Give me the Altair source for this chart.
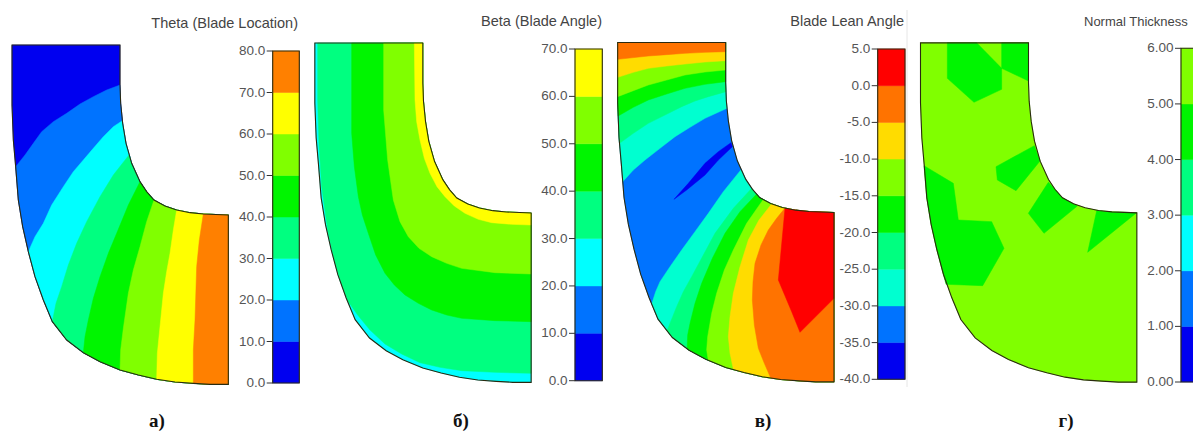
import altair as alt

# Palette
DB, BL, CY, SP, GR, LI, YE, OR, RE = "#0000f0", "#0073ff", "#00ffff", "#00ff80", "#00f500", "#80ff00", "#ffff00", "#ff8000", "#ff0000"
GD, OR2, TE = "#ffdc00", "#ff7300", "#00ffd0"

OFF_A, OFF_B, OFF_C, OFF_D = 0, 305, 605, 900

blade = [(36,135),(360,135),(360,255),(362,310),(368,370),(378,430),(395,490),(420,545),(440,575),(462,600),(495,618),(530,630),(570,638),(610,642),(685,645),(685,1153),
         (630,1153),(580,1150),(525,1146),(470,1138),(415,1125),(360,1110),(300,1085),(250,1058),(200,1020),(157,965),(130,900),(105,830),(85,755),(68,680),(55,600),(47,500),(40,420),(36,315)]
shift_b, shift_c, shift_d = (-6.5, -6), (2, -7.5), (25.5, -6.5)

outline_a = blade
outline_b = [(x + shift_b[0], y + shift_b[1]) for x, y in blade]
outline_c = [(x + shift_c[0], y + shift_c[1]) for x, y in blade]
outline_d = [(x + shift_d[0], y + shift_d[1]) for x, y in blade]

bounds_a = [
    (BL, [(47,500),(75,465),(100,430),(125,395),(160,365),(200,340),(240,312),(280,290),(320,270),(360,255)]),
    (CY, [(85,755),(105,710),(130,670),(155,615),(190,560),(220,515),(250,480),(280,445),(310,410),(340,380),(368,362)]),
    (SP, [(157,965),(168,910),(185,860),(205,795),(230,730),(260,665),(300,590),(340,525),(385,465)]),
    (GR, [(250,1058),(255,1010),(265,960),(280,895),(300,830),(325,760),(350,700),(385,615),(420,545)]),
    (LI, [(360,1110),(362,1050),(370,985),(385,880),(400,810),(420,740),(440,665),(462,600)]),
    (YE, [(470,1138),(472,1060),(478,1000),(490,880),(500,815),(510,760),(520,690),(530,630)]),
    (OR, [(580,1150),(580,1050),(585,960),(590,800),(598,720),(610,642)]),
]

bounds_b = [
    (SP, [(678,1120),(570,1117),(470,1112),(405,1102),(345,1088),(290,1062),(240,1032),(195,990),(158,945),(130,905),(108,850),(85,770),(68,690),(50,560),(42,430),(38,300),(38,130)]),
    (GR, [(678,965),(570,962),(470,955),(425,945),(380,930),(340,910),(300,885),(268,855),(240,820),(212,765),(190,700),(172,645),(160,590),(148,500),(140,400),(140,130)]),
    (LI, [(678,822),(570,818),(470,805),(425,790),(380,770),(342,745),(310,710),(285,665),(265,600),(248,480),(236,330),(236,130)]),
    (YE, [(678,675),(620,673),(560,668),(520,658),(480,640),(448,618),(420,590),(396,560),(375,520),(358,475),(345,420),(335,365),(330,300),(328,130)]),
]

bounds_c = [
    (TE, [(362,325),(300,355),(255,382),(210,410),(165,445),(120,480),(85,510),(52,545)]),
    (SP, [(360,275),(310,290),(270,303),(230,320),(180,345),(130,370),(85,400),(44,430)]),
    (GR, [(360,245),(300,253),(240,265),(185,282),(130,300),(85,322),(40,348)]),
    (LI, [(360,210),(300,216),(240,225),(185,240),(130,255),(85,272),(40,290)]),
    (GD, [(360,182),(300,186),(240,192),(185,198),(130,205),(85,217),(40,232)]),
    (OR2, [(360,155),(300,157),(240,160),(185,164),(130,168),(38,178)]),
    (TE, [(145,910),(152,875),(165,845),(195,800),(230,750),(270,695),(310,640),(355,575),(405,510)]),
    (SP, [(195,985),(203,950),(215,920),(235,875),(260,830),(295,765),(330,700),(385,625),(440,565)]),
    (GR, [(245,1048),(248,1005),(255,970),(270,910),(290,850),(322,775),(360,700),(405,635),(455,582)]),
    (LI, [(310,1080),(305,1050),(308,1010),(320,940),(335,880),(358,810),(385,750),(425,670),(475,598)]),
    (GD, [(385,1110),(375,1060),(370,1010),(375,950),(385,880),(405,800),(430,720),(462,660),(500,612)]),
    (OR2, [(497,1135),(478,1090),(460,1045),(448,975),(442,900),(444,845),(450,790),(468,735),(490,690),(515,655),(540,625)]),
]
free_c = [
    (RE, [(540,625),(572,630),(612,634.5),(687,637.5),(687,895),(585,997),(560,935),(520,840)]),
    (DB, [(378,428),(340,455),(300,490),(250,550),(207,598),(245,570),(300,525),(340,480),(382,440)]),
]

free_d = [
    (GR, [(142,128.5),(230,128.5),(305,205),(305,268),(222,307),(142,235)]),
    (GR, [(305,128.5),(385.5,128.5),(385.5,243),(305,205)]),
    (GR, [(288,500),(403,437),(420,483),(348,572),(292,540)]),
    (GR, [(385,640),(445,547),(465,568),(487,593),(532,618),(432,700)]),
    (GR, [(72,497),(160,550),(175,660),(275,665),(312,745),(248,857),(138,853),(130,823),(110,748),(93,673),(80,593)]),
    (GR, [(590,632),(636,636),(710,638),(563,757)]),
]

# ---- colour bars
titles = ["Theta (Blade Location)", "Beta (Blade Angle)", "Blade Lean Angle", "Normal Thickness"]
title_x = [298, 602, 904, 1084]
title_y = [24, 22, 22, 22]
title_align = ["right", "right", "right", "left"]
bars = [
    dict(vals=[0,10,20,30,40,50,60,70,80], fmt="{:.1f}", cols=[DB,BL,CY,SP,GR,LI,YE,OR], x0=272.7, x1=299.3, top=51, bot=383),
    dict(vals=[0,10,20,30,40,50,60,70], fmt="{:.1f}", cols=[DB,BL,CY,SP,GR,LI,YE], x0=575, x1=602.3, top=49, bot=380.7),
    dict(vals=[-40,-35,-30,-25,-20,-15,-10,-5,0,5], fmt="{:.1f}", cols=[DB,BL,TE,SP,GR,LI,GD,OR2,RE], x0=877.7, x1=905, top=49, bot=379.3),
    dict(vals=[0,1,2,3,4,5,6], fmt="{:.2f}", cols=[DB,BL,CY,SP,GR,LI], x0=1181, x1=1203, top=48.3, bot=382),
]
captions = ["а)", "б)", "в)", "г)"]
caption_x = [157, 461, 763, 1066]
caption_y = 421


def to_page(pts, off):
    return [[off + x / 3, y / 3] for x, y in pts]


def snap(outline, p):
    best, bi, bp = 1e18, 0, p
    n = len(outline)
    for i in range(n):
        a, b = outline[i], outline[(i + 1) % n]
        dx, dy = b[0] - a[0], b[1] - a[1]
        t = max(0, min(1, ((p[0] - a[0]) * dx + (p[1] - a[1]) * dy) / (dx * dx + dy * dy)))
        q = (a[0] + t * dx, a[1] + t * dy)
        d = (q[0] - p[0]) ** 2 + (q[1] - p[1]) ** 2
        if d < best:
            best, bi, bp = d, i, q
    return bi, bp


def region(outline, b):
    n = len(outline)
    i, end = snap(outline, b[-1])
    j, start = snap(outline, b[0])
    pts = [start] + list(b[1:-1]) + [end]
    k = (i + 1) % n
    while True:
        pts.append(outline[k])
        if k == j:
            break
        k = (k + 1) % n
    return pts


def poly(pts, fill):
    ring = [list(p) for p in pts] + [list(pts[0])]
    return {"type": "Feature", "properties": {"fill": fill}, "geometry": {"type": "Polygon", "coordinates": [ring]}}


def line(pts, col):
    return {"type": "Feature", "properties": {"col": col}, "geometry": {"type": "LineString", "coordinates": [list(p) for p in pts]}}


fills, outlines, ticks, labels = [], [], [], []
for outline, base, bounds, free, off in [
    (outline_a, DB, bounds_a, [], OFF_A),
    (outline_b, CY, bounds_b, [], OFF_B),
    (outline_c, BL, bounds_c, free_c, OFF_C),
    (outline_d, LI, [], free_d, OFF_D),
]:
    fills.append(poly(to_page(outline, off), base))
    for col, b in bounds:
        fills.append(poly(to_page(region(outline, b), off), col))
    for col, pts in free:
        fills.append(poly(to_page(pts, off), col))
    outlines.append(poly(to_page(outline, off), "none"))

for b in bars:
    v = b["vals"]
    ypos = lambda q: b["bot"] - (q - v[0]) / (v[-1] - v[0]) * (b["bot"] - b["top"])
    for lo, hi, c in zip(v[:-1], v[1:], b["cols"]):
        fills.append(poly([(b["x0"], ypos(lo)), (b["x1"], ypos(lo)), (b["x1"], ypos(hi)), (b["x0"], ypos(hi))], c))
    outlines.append(poly([(b["x0"], b["bot"]), (b["x1"], b["bot"]), (b["x1"], b["top"]), (b["x0"], b["top"])], "none"))
    for q in v:
        ticks.append(line([(b["x0"] - 6, ypos(q)), (b["x0"], ypos(q))], "#333333"))
        labels.append({"lon": b["x0"] - 7.5, "lat": ypos(q), "t": b["fmt"].format(q)})

proj = alt.Projection(type="identity", scale=1, translate=[-8, -8])

guide = [line([(907, 10), (907, 387)], "#e6e6e6")]

fill_layer = alt.Chart(alt.Data(values=fills)).mark_geoshape(strokeWidth=0.5).encode(
    fill=alt.Fill("properties.fill:N", scale=None), stroke=alt.Stroke("properties.fill:N", scale=None))
edge_layer = alt.Chart(alt.Data(values=outlines)).mark_geoshape(filled=False, stroke="#2a2a10", strokeWidth=1.1)
tick_layer = alt.Chart(alt.Data(values=ticks + guide)).mark_geoshape(filled=False, strokeWidth=1).encode(
    stroke=alt.Stroke("properties.col:N", scale=None))

label_layer = alt.Chart(alt.Data(values=labels)).mark_text(
    align="right", baseline="middle", font="Liberation Sans", fontSize=13.5, color="#555555").encode(
    longitude="lon:Q", latitude="lat:Q", text="t:N")

title_rows = [{"lon": x, "lat": y, "t": t} for x, y, t, a in zip(title_x, title_y, titles, title_align) if a == "right"]
title_layer = alt.Chart(alt.Data(values=title_rows)).mark_text(
    align="right", baseline="middle", font="Liberation Sans", fontSize=14.5, color="#444444").encode(
    longitude="lon:Q", latitude="lat:Q", text="t:N")
title_rows2 = [{"lon": x, "lat": y, "t": t} for x, y, t, a in zip(title_x, title_y, titles, title_align) if a == "left"]
title_layer2 = alt.Chart(alt.Data(values=title_rows2)).mark_text(
    align="left", baseline="middle", font="Liberation Sans", fontSize=13, color="#444444").encode(
    longitude="lon:Q", latitude="lat:Q", text="t:N")

cap_rows = [{"lon": x, "lat": caption_y, "t": t} for x, t in zip(caption_x, captions)]
cap_layer = alt.Chart(alt.Data(values=cap_rows)).mark_text(
    align="center", baseline="middle", font="Liberation Serif", fontSize=19, fontWeight="bold", color="#111111").encode(
    longitude="lon:Q", latitude="lat:Q", text="t:N")

chart = alt.layer(fill_layer, edge_layer, tick_layer, label_layer, title_layer, title_layer2, cap_layer, projection=proj).properties(
    width=1185, height=424, padding=0, background="white",
    autosize=alt.AutoSizeParams(type="none"),
).configure_view(stroke=None)

chart.save("out.html", embed_options={"renderer": "svg", "actions": False})
